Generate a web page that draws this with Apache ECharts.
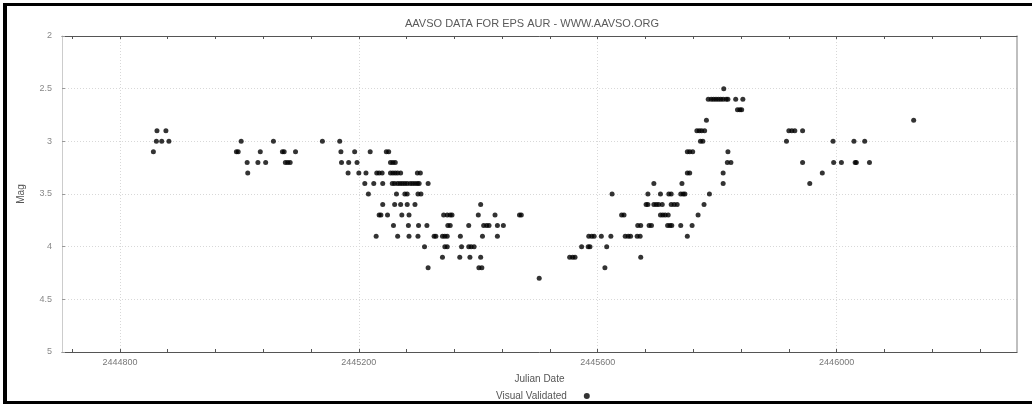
<!DOCTYPE html>
<html>
<head>
<meta charset="utf-8">
<title>AAVSO DATA FOR EPS AUR</title>
<script src="https://cdn.jsdelivr.net/npm/echarts@6/dist/echarts.min.js"></script>
<style>
  html, body { margin: 0; padding: 0; background: #ffffff; }
  #chart { width: 1032px; height: 404px; }
</style>
</head>
<body>
<div id="chart"></div>
<script>
// Visual (validated) magnitude estimates of eps Aur, grouped by reported magnitude.
const magLevels = [2.5, 2.6, 2.7, 2.8, 2.9, 3.0, 3.1, 3.2, 3.3, 3.4, 3.5, 3.6, 3.7, 3.8, 3.9, 4.0, 4.1, 4.2, 4.3];

const datesByLevel = [
  [2445811],
  [2445785, 2445790, 2445794, 2445798, 2445802, 2445806, 2445810, 2445815, 2445818, 2445831, 2445843],
  [2445834, 2445838, 2445841],
  [2445782, 2446129],
  [2444862, 2444877, 2445766, 2445770, 2445774, 2445779, 2445920, 2445925, 2445930, 2445943],
  [2444861, 2444870, 2444882, 2445003, 2445057, 2445139, 2445168, 2445772, 2445776, 2445916, 2445994, 2446029, 2446047],
  [2444856, 2444995, 2444998, 2445035, 2445072, 2445075, 2445094, 2445170, 2445193, 2445219, 2445246, 2445250, 2445750, 2445754, 2445759, 2445818],
  [2445013, 2445031, 2445044, 2445077, 2445081, 2445085, 2445171, 2445183, 2445197, 2445253, 2445257, 2445261, 2445817, 2445823, 2445943, 2445995, 2446008, 2446031, 2446033, 2446055],
  [2445014, 2445182, 2445200, 2445212, 2445230, 2445234, 2445239, 2445253, 2445257, 2445261, 2445265, 2445270, 2445298, 2445303, 2445750, 2445754, 2445810, 2445976],
  [2445210, 2445225, 2445240, 2445256, 2445260, 2445265, 2445269, 2445273, 2445277, 2445281, 2445286, 2445290, 2445294, 2445298, 2445301, 2445316, 2445694, 2445741, 2445810, 2445955],
  [2445216, 2445263, 2445277, 2445281, 2445299, 2445304, 2445624, 2445684, 2445705, 2445719, 2445723, 2445739, 2445743, 2445746, 2445787],
  [2445240, 2445260, 2445270, 2445281, 2445294, 2445404, 2445681, 2445684, 2445694, 2445698, 2445702, 2445708, 2445723, 2445728, 2445733, 2445778],
  [2445234, 2445237, 2445248, 2445272, 2445284, 2445342, 2445348, 2445353, 2445356, 2445400, 2445428, 2445469, 2445472, 2445640, 2445644, 2445705, 2445709, 2445713, 2445718, 2445768],
  [2445258, 2445283, 2445300, 2445314, 2445349, 2445353, 2445384, 2445409, 2445414, 2445418, 2445432, 2445442, 2445667, 2445672, 2445686, 2445690, 2445717, 2445721, 2445724, 2445739, 2445758],
  [2445229, 2445265, 2445284, 2445299, 2445326, 2445329, 2445340, 2445344, 2445348, 2445370, 2445407, 2445432, 2445585, 2445590, 2445594, 2445606, 2445622, 2445646, 2445651, 2445655, 2445666, 2445671, 2445750],
  [2445310, 2445344, 2445348, 2445372, 2445384, 2445388, 2445393, 2445573, 2445584, 2445587, 2445615],
  [2445340, 2445369, 2445386, 2445404, 2445553, 2445558, 2445562, 2445672],
  [2445316, 2445401, 2445406, 2445612],
  [2445502]
];

// Axis extents and labelled Julian dates
const jdMin = 2444703;
const jdMax = 2446302;
const jdLabels = [2444800, 2445200, 2445600, 2446000];
const jdTickStep = 80;

const points = [];
magLevels.forEach((mag, i) => {
  datesByLevel[i].forEach(jd => points.push([jd, mag]));
});

const jdTicks = [];
for (let v = Math.ceil(jdMin / jdTickStep) * jdTickStep; v <= jdMax; v += jdTickStep) jdTicks.push(v);

const labelFont = 'Liberation Sans, Arial, sans-serif';
const dotted = { color: '#d8d8d8', type: [1, 2], width: 1 };

const chart = echarts.init(document.getElementById('chart'), null, { renderer: 'canvas' });

chart.setOption({
  backgroundColor: '#ffffff',
  animation: false,
  title: {
    text: 'AAVSO DATA FOR EPS AUR - WWW.AAVSO.ORG',
    left: 400,
    top: 13,
    textStyle: { fontFamily: labelFont, fontSize: 11, fontWeight: 'normal', color: '#5a5a5a' }
  },
  legend: {
    data: ['Visual Validated'],
    left: 491,
    top: 386,
    align: 'right',
    icon: 'circle',
    itemWidth: 6,
    itemHeight: 6,
    textStyle: { fontFamily: labelFont, fontSize: 10, color: '#555555', padding: [0, 12, 0, 0] }
  },
  grid: { left: 62, right: 15, top: 36, bottom: 52, containLabel: false },
  graphic: [
    { type: 'rect', shape: { x: 3, y: 3, width: 4, height: 401 }, style: { fill: '#000' }, silent: true },
    { type: 'rect', shape: { x: 3, y: 3, width: 1029, height: 3 }, style: { fill: '#000' }, silent: true },
    { type: 'rect', shape: { x: 3, y: 401, width: 1029, height: 3 }, style: { fill: '#000' }, silent: true }
  ],
  xAxis: [
    {
      type: 'value',
      position: 'bottom',
      min: jdMin,
      max: jdMax,
      name: 'Julian Date',
      nameLocation: 'middle',
      nameGap: 22,
      nameTextStyle: { fontFamily: labelFont, fontSize: 10, color: '#555555' },
      axisLine: { show: true, onZero: false, lineStyle: { color: '#555555', width: 1 } },
      axisTick: { show: true, inside: true, length: 3, customValues: jdTicks, lineStyle: { color: '#555555' } },
      axisLabel: { customValues: jdLabels, fontFamily: labelFont, fontSize: 9, color: '#777777', margin: 6,
                   formatter: v => String(v) },
      splitLine: { show: false }
    },
    {
      type: 'value',
      position: 'top',
      min: jdMin,
      max: jdMax,
      axisLine: { show: true, onZero: false, lineStyle: { color: '#555555', width: 1 } },
      axisTick: { show: true, inside: true, length: 3, customValues: jdTicks, lineStyle: { color: '#555555' } },
      axisLabel: { show: false },
      splitLine: { show: false }
    },
    {
      type: 'value',
      position: 'bottom',
      min: jdMin,
      max: jdMax,
      axisLine: { show: false },
      axisTick: { show: false, customValues: jdLabels },
      axisLabel: { show: false },
      splitLine: { show: true, lineStyle: dotted }
    }
  ],
  yAxis: [
    {
      type: 'value',
      position: 'left',
      inverse: true,
      min: 2,
      max: 5,
      interval: 0.5,
      name: 'Mag',
      nameLocation: 'middle',
      nameGap: 36,
      nameTextStyle: { fontFamily: labelFont, fontSize: 10, color: '#555555' },
      axisLine: { show: true, onZero: false, lineStyle: { color: '#cccccc', width: 1 } },
      axisTick: { show: true, inside: true, length: 3, lineStyle: { color: '#999999' } },
      axisLabel: { fontFamily: labelFont, fontSize: 9, color: '#888888', margin: 10 },
      splitLine: { show: true, lineStyle: dotted }
    },
    {
      type: 'value',
      position: 'right',
      inverse: true,
      min: 2,
      max: 5,
      interval: 0.5,
      axisLine: { show: true, onZero: false, lineStyle: { color: '#aaaaaa', width: 1.5 } },
      axisTick: { show: false },
      axisLabel: { show: false },
      splitLine: { show: false }
    }
  ],
  series: [
    {
      name: 'Visual Validated',
      type: 'scatter',
      xAxisIndex: 0,
      yAxisIndex: 0,
      symbol: 'circle',
      symbolSize: 5,
      itemStyle: { color: '#000000' },
      data: points
    }
  ]
});
</script>
</body>
</html>
